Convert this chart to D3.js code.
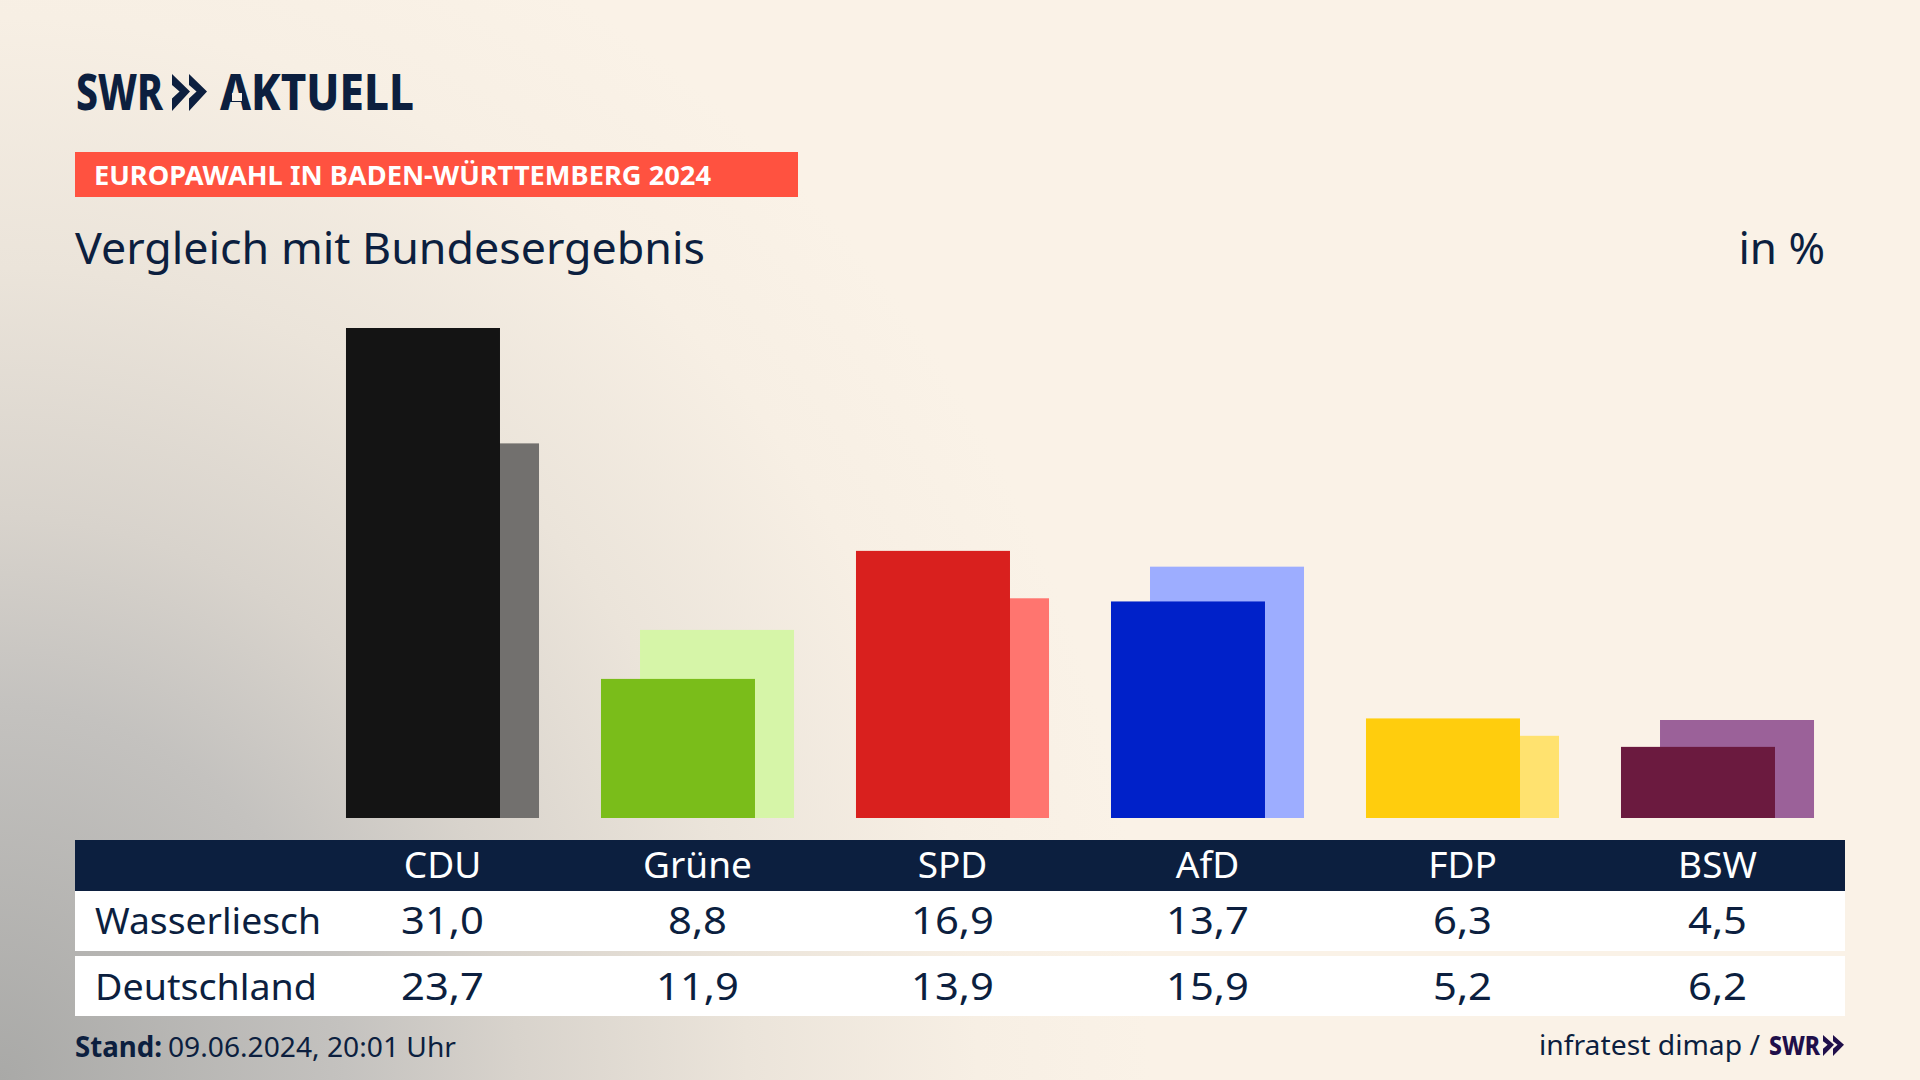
<!DOCTYPE html>
<html>
<head>
<meta charset="utf-8">
<title>Vergleich mit Bundesergebnis</title>
<script src="https://d3js.org/d3.v7.min.js"></script>
<style>
html, body { margin: 0; padding: 0; background: #faf2e7; overflow: hidden; }
svg { display: block; }
text { font-family: "Noto Sans", sans-serif; fill: #0c1f3f; }
</style>
</head>
<body>
<svg id="chart" width="1920" height="1080"></svg>
<script>
var parties = ["CDU", "Grüne", "SPD", "AfD", "FDP", "BSW"];
var wasserliesch = [31.0, 8.8, 16.9, 13.7, 6.3, 4.5];
var deutschland = [23.7, 11.9, 13.9, 15.9, 5.2, 6.2];
var frontColors = ["#141414", "#7abd1a", "#d9201e", "#0021c9", "#ffcd0d", "#6b1a3f"];
var backColors = ["#72706e", "#d6f5a8", "#ff756f", "#9dadff", "#ffe26f", "#9b6199"];
var rowLabels = ["Wasserliesch", "Deutschland"];

var dark = "#0c1f3f";
var svg = d3.select("#chart");

// hintergrund
var grad = svg.append("defs").append("radialGradient")
    .attr("id", "bg")
    .attr("gradientUnits", "userSpaceOnUse")
    .attr("cx", 0).attr("cy", 1080).attr("r", 1)
    .attr("gradientTransform", "translate(0,1080) scale(1150,1250) translate(0,-1080)");
[[0, "#a9a9a7"], [0.3, "#c4c2bf"], [0.45, "#d8d3cc"], [0.65, "#ebe4da"], [0.85, "#f7efe4"], [1, "#faf2e7"]].forEach(function (s) {
    grad.append("stop").attr("offset", s[0]).attr("stop-color", s[1]);
});
svg.append("rect").attr("width", 1920).attr("height", 1080).attr("fill", "url(#bg)");

function label(x, y, str, size, opts) {
    opts = opts || {};
    var t = svg.append("text")
        .attr("x", x).attr("y", y)
        .attr("font-size", size)
        .attr("font-weight", opts.weight || 400)
        .attr("text-anchor", opts.anchor || "start")
        .text(str);
    if (opts.fill) t.style("fill", opts.fill);
    if (opts.stretch) opts.width = t.node().getComputedTextLength() * opts.stretch;
    if (opts.width) t.attr("textLength", opts.width).attr("lengthAdjust", "spacingAndGlyphs");
    return t;
}

function chevrons(x, y, w, h, gap, fill) {
    [0, 1].forEach(function (i) {
        var x0 = x + i * gap;
        svg.append("polygon")
            .attr("fill", fill)
            .attr("points", [
                [x0, y], [x0 + w, y + h * 0.47], [x0, y + h],
                [x0, y + h * 0.66], [x0 + w * 0.42, y + h * 0.47], [x0, y + h * 0.3]
            ].join(" "));
    });
}

// kopf
label(76, 110, "SWR", 49, { weight: 800, width: 87 });
chevrons(172, 74, 18, 37, 17, dark);
label(220, 110, "AKTUELL", 49, { weight: 800, width: 194 });
// logo-A hat keinen querstrich
svg.append("rect").attr("x", 232).attr("y", 93).attr("width", 10).attr("height", 8).attr("fill", "#f9f1e6");

svg.append("rect").attr("x", 75).attr("y", 152).attr("width", 723).attr("height", 45).attr("fill", "#ff5240");
label(94, 185, "EUROPAWAHL IN BADEN-WÜRTTEMBERG 2024", 26, { weight: 700, fill: "#fff", width: 617 });
label(75, 264, "Vergleich mit Bundesergebnis", 44, { width: 630 });
label(1825, 264, "in %", 44, { anchor: "end" });

// balken
var x = d3.scaleBand().domain(parties).range([315, 1845]).paddingInner(0.243).paddingOuter(0.1215);
var y = d3.scaleLinear().domain([0, 31]).range([818, 328]);
var barW = 154;

svg.append("g").selectAll("rect").data(parties).enter().append("rect")
    .attr("x", function (d) { return x(d) + x.bandwidth() - barW; })
    .attr("y", function (d, i) { return y(deutschland[i]); })
    .attr("width", barW)
    .attr("height", function (d, i) { return y(0) - y(deutschland[i]); })
    .attr("fill", function (d, i) { return backColors[i]; });

svg.append("g").selectAll("rect").data(parties).enter().append("rect")
    .attr("x", function (d) { return x(d); })
    .attr("y", function (d, i) { return y(wasserliesch[i]); })
    .attr("width", barW)
    .attr("height", function (d, i) { return y(0) - y(wasserliesch[i]); })
    .attr("fill", function (d, i) { return frontColors[i]; });

// tabelle
svg.append("rect").attr("x", 75).attr("y", 840).attr("width", 1770).attr("height", 51).attr("fill", dark);
svg.append("rect").attr("x", 75).attr("y", 891).attr("width", 1770).attr("height", 60).attr("fill", "#fff");
svg.append("rect").attr("x", 75).attr("y", 956).attr("width", 1770).attr("height", 60).attr("fill", "#fff");

function cx(p) { return x(p) + x.bandwidth() / 2; }
function comma(v) { return d3.format(".1f")(v).replace(".", ","); }

parties.forEach(function (p, i) {
    label(cx(p), 878, p, 37, { anchor: "middle", fill: "#fff" });
    label(cx(p), 934, comma(wasserliesch[i]), 38, { anchor: "middle", stretch: 1.1 });
    label(cx(p), 1000, comma(deutschland[i]), 38, { anchor: "middle", stretch: 1.1 });
});
label(95, 934, rowLabels[0], 37, { width: 226 });
label(95, 1000, rowLabels[1], 37, { width: 222 });

// fuss
label(75, 1057, "Stand:", 28, { weight: 700, width: 87 });
label(168, 1057, "09.06.2024, 20:01 Uhr", 28, { width: 288 });
label(1539, 1055, "infratest dimap /", 28, { width: 221 });
label(1769, 1055, "SWR", 27, { weight: 800, fill: "#1f0f4a", width: 51 });
chevrons(1823, 1035, 11, 21, 10, "#1f0f4a");
</script>
</body>
</html>
